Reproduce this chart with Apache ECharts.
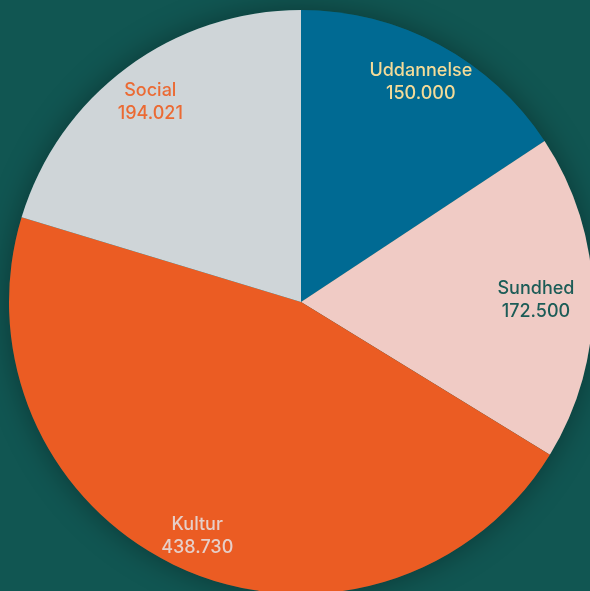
<!DOCTYPE html>
<html><head><meta charset="utf-8">
<script src="https://cdn.jsdelivr.net/npm/echarts@6/dist/echarts.min.js"></script>
<style>html,body{margin:0;padding:0;background:#115652;}#c{width:590px;height:591px;}</style>
</head><body><div id="c"></div>
<script>
const categories = ['Uddannelse', 'Sundhed', 'Kultur', 'Social'];
const values = [150000, 172500, 438730, 194021];
const valueLabels = ['150.000', '172.500', '438.730', '194.021'];
const sliceColors = ['#006a93', '#f0cbc5', '#eb5c23', '#cfd5d8'];
const labelColors = ['#f4db98', '#1c5c57', '#e6cfc9', '#eb6a33'];

const data = categories.map((c, i) => ({
  name: c, value: values[i],
  itemStyle: { color: sliceColors[i] }
}));
const labelData = categories.map((c, i) => ({
  name: c, value: values[i],
  label: i === 1 ? { color: labelColors[i], offset: [-18, 2] } : { color: labelColors[i], offset: [0, 3] }
}));

const chart = echarts.init(document.getElementById('c'), null, { renderer: 'canvas' });
chart.setOption({
  backgroundColor: '#115652',
  animation: false,
  series: [
    {
      type: 'pie', center: [301, 302], radius: [0, 292], silent: true, z: 0,
      data: [{ name: 'shadow', value: 1 }],
      label: { show: false }, labelLine: { show: false },
      itemStyle: { color: '#115652', shadowBlur: 30, shadowColor: 'rgba(0,0,0,0.35)' }
    },
    {
      type: 'pie', center: [301, 302], radius: [0, 292], startAngle: 90, clockwise: true,
      silent: true, z: 2,
      data: data,
      label: { show: false }, labelLine: { show: false },
      itemStyle: { borderWidth: 0 }
    },
    {
      type: 'pie', center: [301, 302], radius: [208, 292], startAngle: 90, clockwise: true,
      silent: true, z: 3,
      data: labelData,
      itemStyle: { color: 'rgba(0,0,0,0)', borderWidth: 0 },
      labelLine: { show: false },
      label: {
        show: true, position: 'inside',
        fontFamily: 'Inter', fontSize: 18, fontWeight: 500, lineHeight: 23,
        formatter: p => p.name + '\n' + valueLabels[p.dataIndex]
      }
    }
  ]
});
</script></body></html>
